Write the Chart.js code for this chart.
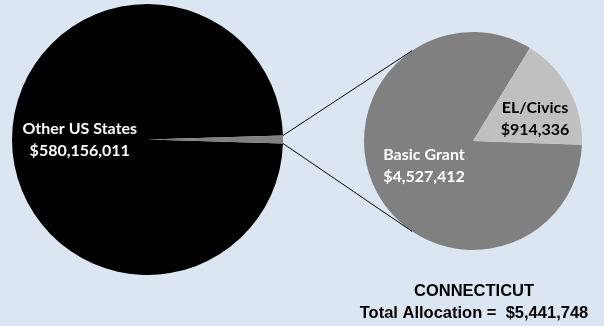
<!DOCTYPE html>
<html>
<head>
<meta charset="utf-8">
<script src="https://cdn.jsdelivr.net/npm/chart.js@4/dist/chart.umd.min.js"></script>
<style>
  html, body { margin: 0; padding: 0; background: #dce6f2; }
  #wrap { position: relative; width: 604px; height: 326px; }
  #wrap canvas { position: absolute; left: 0; top: 0; }
</style>
</head>
<body>
<div id="wrap">
  <canvas id="mainPie" width="604" height="326"></canvas>
  <canvas id="subPie" width="604" height="326"></canvas>
</div>
<script>
// Pie of pie: national allocation vs Connecticut breakdown

const outerLabels = ["Other US States", "Connecticut"];
const outerValues = [580156011, 5441748];

const innerLabels = ["Basic Grant", "EL/Civics"];
const innerValues = [4527412, 914336];

const titleLines = ["CONNECTICUT", "Total Allocation =  $5,441,748"];

const LABEL_FONT = "bold 16px Lato, 'Open Sans', sans-serif";
const TITLE_FONT = "bold 16.5px 'Liberation Sans', Arial, sans-serif";

const money = v => "$" + v.toLocaleString("en-US");

// Draws "name / $value" labels at each arc's centre point (+ optional nudge)
const sliceLabels = {
  id: "sliceLabels",
  afterDatasetsDraw(chart, args, opts) {
    const ctx = chart.ctx;
    const meta = chart.getDatasetMeta(0);
    const labels = chart.data.labels;
    const values = chart.data.datasets[0].data;
    ctx.save();
    ctx.font = LABEL_FONT;
    ctx.textAlign = "center";
    ctx.textBaseline = "middle";
    meta.data.forEach((arc, i) => {
      if (!opts.show[i]) return;
      const p = arc.getCenterPoint();
      const [dx, dy] = opts.shift[i];
      ctx.fillStyle = opts.colors[i];
      ctx.fillText(labels[i], p.x + dx, p.y + dy - 11);
      ctx.fillText(money(values[i]), p.x + dx, p.y + dy + 11);
    });
    ctx.restore();
  },
};

// Connector lines from the small slice of the main pie to the sub pie
const connectors = {
  id: "connectors",
  afterDatasetsDraw(chart, args, opts) {
    const src = opts.source();
    if (!src) return;
    const a = src.getDatasetMeta(0).data[1].getProps(["x", "y", "startAngle", "endAngle", "outerRadius"], true);
    const b = chart.getDatasetMeta(0).data[0].getProps(["x", "y", "outerRadius"], true);
    const ang = opts.angle * Math.PI / 180;
    const ctx = chart.ctx;
    ctx.save();
    ctx.strokeStyle = "#000";
    ctx.lineWidth = 1;
    ctx.beginPath();
    ctx.moveTo(a.x + a.outerRadius * Math.cos(a.startAngle), a.y + a.outerRadius * Math.sin(a.startAngle));
    ctx.lineTo(b.x + b.outerRadius * Math.cos(-ang), b.y + b.outerRadius * Math.sin(-ang));
    ctx.moveTo(a.x + a.outerRadius * Math.cos(a.endAngle), a.y + a.outerRadius * Math.sin(a.endAngle));
    ctx.lineTo(b.x + b.outerRadius * Math.cos(ang), b.y + b.outerRadius * Math.sin(ang));
    ctx.stroke();
    ctx.restore();
  },
};

// Title text under the sub pie
const subTitle = {
  id: "subTitle",
  afterDraw(chart, args, opts) {
    const ctx = chart.ctx;
    ctx.save();
    ctx.font = TITLE_FONT;
    ctx.fillStyle = "#000";
    ctx.textAlign = "center";
    ctx.textBaseline = "middle";
    titleLines.forEach((t, i) => ctx.fillText(t, opts.x, opts.y + i * 22));
    ctx.restore();
  },
};

const ctFrac = outerValues[1] / outerValues.reduce((s, v) => s + v, 0);

let mainChart = null;

mainChart = new Chart(document.getElementById("mainPie"), {
  type: "pie",
  data: {
    labels: outerLabels,
    datasets: [{
      data: outerValues,
      backgroundColor: ["#000000", "#808080"],
      borderWidth: 0,
    }],
  },
  options: {
    responsive: false,
    animation: false,
    rotation: 90 + ctFrac * 180,
    layout: { padding: { left: 12, right: 321, top: 4, bottom: 51 } },
    plugins: {
      legend: { display: false },
      tooltip: { enabled: false },
      sliceLabels: { show: [true, false], colors: ["#ffffff", "#ffffff"], shift: [[0, 0], [0, 0]] },
    },
  },
  plugins: [sliceLabels],
});

new Chart(document.getElementById("subPie"), {
  type: "pie",
  data: {
    labels: innerLabels,
    datasets: [{
      data: innerValues,
      backgroundColor: ["#808080", "#c0c0c0"],
      borderWidth: 0,
    }],
  },
  options: {
    responsive: false,
    animation: false,
    rotation: 92,
    layout: { padding: { left: 364, right: 22, top: 32, bottom: 76 } },
    plugins: {
      legend: { display: false },
      tooltip: { enabled: false },
      sliceLabels: { show: [true, true], colors: ["#ffffff", "#000000"], shift: [[-1, -1], [14, 4]] },
      connectors: { source: () => mainChart, angle: 124 },
      subTitle: { x: 474, y: 291 },
    },
  },
  plugins: [sliceLabels, connectors, subTitle],
});
</script>
</body>
</html>
